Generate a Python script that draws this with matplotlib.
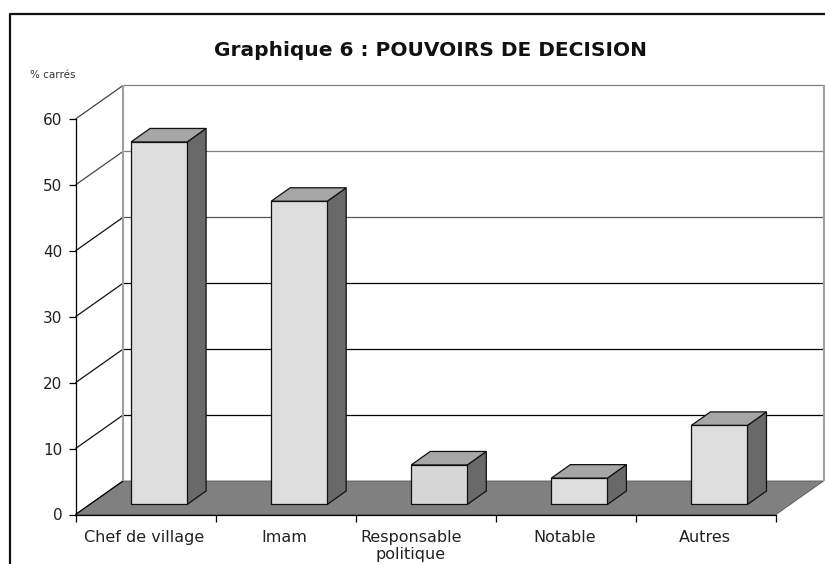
import matplotlib
matplotlib.use("Agg")
import matplotlib.pyplot as plt
from matplotlib.lines import Line2D
from matplotlib.patches import Polygon

categories = ["Chef de village", "Imam", "Responsable\npolitique", "Notable", "Autres"]
values = [55, 46, 6, 4, 12]
y_ticks = [0, 10, 20, 30, 40, 50, 60]

W, H = 825, 564
FONT = "DejaVu Sans"

fig = plt.figure(figsize=(W / 100, H / 100), dpi=100)
# axes = front plane of the 3d box, everything else goes out of it
ax = fig.add_axes([75.5 / W, 1 - 514.5 / H, 700.5 / W, 395.5 / H])
ax.set_xlim(0, 5)
ax.set_ylim(0, 60)
ax.patch.set_visible(False)

# depth of box and bars, in data units
dx_box, dy_box = 47.5 / 140, 33.5 / 6.59
dx_bar, dy_bar = 19 / 140, 13.5 / 6.59
bar_w = 56 / 140
base = 10 / 6.59


def poly(pts, fc, ec="none", lw=0, z=1):
    ax.add_patch(Polygon(pts, closed=True, fc=fc, ec=ec, lw=lw, zorder=z, clip_on=False))


def line(xs, ys, color, lw=0.9, z=2):
    ax.plot(xs, ys, color=color, lw=lw, zorder=z, clip_on=False, solid_capstyle="butt")


# floor
poly([(0, 0), (5, 0), (5 + dx_box, dy_box), (dx_box, dy_box)], "#808080", "#555555", 0.6)

# back wall and grid
for v in y_ticks[1:]:
    c = {60: "#808080", 50: "#808080", 40: "#555555"}.get(v, "#000000")
    line([0, dx_box], [v, v + dy_box], "#444444" if v >= 50 else "#111111")
    line([dx_box, 5 + dx_box], [v + dy_box, v + dy_box], c)
line([0, dx_box], [0, dy_box], "#000000")
line([dx_box, dx_box], [dy_box, 60 + dy_box], "#a0a0a0", 1.5)
line([5 + dx_box, 5 + dx_box], [dy_box, 60 + dy_box], "#a0a0a0", 1.5)

# bars
for i, v in enumerate(values):
    x0 = i + 55.5 / 140
    x1 = x0 + bar_w
    top = base + v
    front = "#dddddd" if i != 2 else "#d6d6d6"
    poly([(x1, base), (x1 + dx_bar, base + dy_bar), (x1 + dx_bar, top + dy_bar), (x1, top)], "#696969", "#111111", 0.9, 3)
    poly([(x0, top), (x1, top), (x1 + dx_bar, top + dy_bar), (x0 + dx_bar, top + dy_bar)], "#a6a6a6", "#111111", 0.9, 3)
    poly([(x0, base), (x1, base), (x1, top), (x0, top)], front, "#111111", 0.9, 4)

# axes, ticks
for s in ["top", "right"]:
    ax.spines[s].set_visible(False)
ax.spines["left"].set_linewidth(0.9)
ax.spines["bottom"].set_linewidth(0.9)
ax.set_yticks(y_ticks)
ax.set_yticklabels([str(v) for v in y_ticks], fontname=FONT, fontsize=11, color="#222222")
ax.set_xticks(range(6))
ax.set_xticklabels([])
ax.tick_params(axis="both", length=5, width=0.9, pad=4.5)

# category labels (the third one sits off centre in the original)
for i, name in enumerate(categories):
    off = -14 / 140 if i == 2 else 0
    ax.text(i + 0.5 + off - 1 / 140, -2.35, name, ha="center", va="top", fontname=FONT, fontsize=11.5,
            color="#222222", linespacing=1.15, clip_on=False)

fig.text(430 / W, 1 - 50 / H, "Graphique 6 : POUVOIRS DE DECISION", ha="center", va="center",
         fontname=FONT, fontweight="bold", fontsize=14.5, color="#111111")
fig.text(30 / W, 1 - 75.5 / H, "% carrés", ha="left", va="center", fontname=FONT, fontsize=7.5, color="#333333")

# outer frame, runs off the right and the bottom
fig.add_artist(Line2D([9.5 / W, 9.5 / W, 1], [0, 1 - 14 / H, 1 - 14 / H], color="#111111", lw=1.6))

fig.savefig("out.png", dpi=100)
